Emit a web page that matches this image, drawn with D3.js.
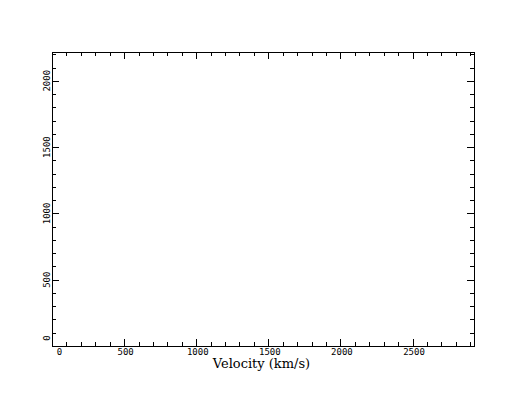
<!DOCTYPE html>
<html>
<head>
<meta charset="utf-8">
<script src="https://cdn.jsdelivr.net/npm/d3@7/dist/d3.min.js"></script>
<style>
  html, body { margin: 0; padding: 0; background: #fff; }
  svg { display: block; }
</style>
</head>
<body>
<svg id="chart" width="528" height="400"></svg>
<script>
// ---- data (the reference plot frame is empty: no series drawn) ----
const xDomain = [0, 2926];
const yDomain = [0, 2217];
const xMajorTicks = [0, 500, 1000, 1500, 2000, 2500];
const yMajorTicks = [0, 500, 1000, 1500, 2000];
const xMinorStep = 100;
const yMinorStep = 100;
const xLabel = "Velocity (km/s)";
const seriesValues = []; // empty

(function () {
// ---- layout ----
const pLeft = 52, pRight = 474, pTop = 52, pBottom = 346;
const svg = d3.select("#chart");
const x = d3.scaleLinear().domain(xDomain).range([pLeft, pRight]);
const y = d3.scaleLinear().domain(yDomain).range([pBottom, pTop]);

const xMinor = d3.range(xDomain[0], xDomain[1] + 1e-9, xMinorStep).filter(v => !xMajorTicks.includes(v));
const yMinor = d3.range(yDomain[0], yDomain[1] + 1e-9, yMinorStep).filter(v => !yMajorTicks.includes(v));

const g = svg.append("g").attr("shape-rendering", "crispEdges")
  .attr("stroke", "#000").attr("stroke-width", 1).attr("fill", "none");

// frame
g.append("rect")
  .attr("x", pLeft + 0.5).attr("y", pTop + 0.5)
  .attr("width", pRight - pLeft).attr("height", pBottom - pTop);

const majLen = 7, minLen = 4;
const px = v => Math.round(x(v)) + 0.5;
const py = v => Math.round(y(v)) + 0.5;

function xTicks(vals, len) {
  vals.forEach(v => {
    g.append("line").attr("x1", px(v)).attr("x2", px(v)).attr("y1", pBottom).attr("y2", pBottom - len);
    g.append("line").attr("x1", px(v)).attr("x2", px(v)).attr("y1", pTop).attr("y2", pTop + len);
  });
}
function yTicks(vals, len) {
  vals.forEach(v => {
    g.append("line").attr("y1", py(v)).attr("y2", py(v)).attr("x1", pLeft).attr("x2", pLeft + len);
    g.append("line").attr("y1", py(v)).attr("y2", py(v)).attr("x1", pRight).attr("x2", pRight - len);
  });
}
xTicks(xMajorTicks.filter(v => v > xDomain[0]), majLen);
xTicks(xMinor.filter(v => v > xDomain[0]), minLen);
yTicks(yMajorTicks.filter(v => v > yDomain[0]), majLen);
yTicks(yMinor.filter(v => v > yDomain[0]), minLen);

// tick labels
const fontTick = "'DejaVu Sans Mono', monospace";
svg.append("g").selectAll("text").data(xMajorTicks).join("text")
  .attr("x", (d, i) => x(d) + (i === 0 ? 7.5 : 1.5))
  .attr("y", 354.5)
  .attr("text-anchor", "middle")
  .attr("font-family", fontTick).attr("font-size", 9)
  .attr("fill", "#000")
  .text(d => d);

svg.append("g").selectAll("text").data(yMajorTicks).join("text")
  .attr("transform", (d, i) => `translate(49.5, ${y(d) + (i === 0 ? -8 : 0)}) rotate(-90)`)
  .attr("text-anchor", "middle")
  .attr("font-family", fontTick).attr("font-size", 9)
  .attr("fill", "#000")
  .text(d => d);

// axis title
svg.append("text")
  .attr("x", (pLeft + pRight) / 2 - 1.5).attr("y", 368)
  .attr("text-anchor", "middle")
  .attr("font-family", "'DejaVu Serif', serif").attr("font-size", 13)
  .attr("fill", "#000")
  .text(xLabel);
})();
</script>
</body>
</html>
